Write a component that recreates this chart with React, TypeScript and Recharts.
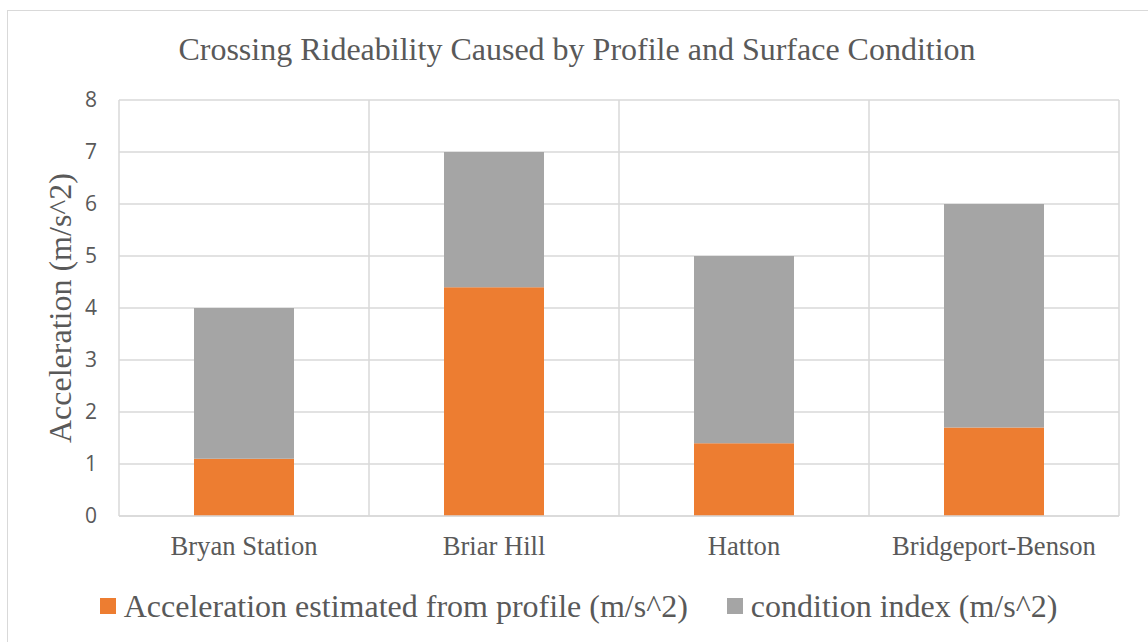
import React from 'react'
import {
  BarChart,
  Bar,
  XAxis,
  YAxis,
  CartesianGrid,
  Legend,
} from 'recharts'

const crossings = ['Bryan Station', 'Briar Hill', 'Hatton', 'Bridgeport-Benson']
const profileAccel = [1.1, 4.4, 1.4, 1.7]
const conditionIndex = [2.9, 2.6, 3.6, 4.3]
const yTicks = [0, 1, 2, 3, 4, 5, 6, 7, 8]

const seriesNames = {
  profile: 'Acceleration estimated from profile (m/s^2)',
  condition: 'condition index (m/s^2)',
}

const ORANGE = '#ED7D31'
const GRAY = '#A5A5A5'
const GRID = '#D9D9D9'
const TEXT = '#595959'
const SERIF = '"Liberation Serif", "Times New Roman", serif'

const data = crossings.map((name, i) => ({
  name,
  profile: profileAccel[i],
  condition: conditionIndex[i],
}))

const XTick = (props: any) => {
  const { x, y, payload } = props
  return (
    <text
      x={x}
      y={y}
      dy={39}
      textAnchor="middle"
      fill={TEXT}
      fontSize={26.6}
      fontFamily={SERIF}
    >
      {payload.value}
    </text>
  )
}

const YLabel = (props: any) => {
  const { viewBox } = props
  const cy = viewBox.y + viewBox.height / 2
  const x = 71
  return (
    <text
      x={x}
      y={cy}
      transform={`rotate(-90, ${x}, ${cy})`}
      textAnchor="middle"
      fill={TEXT}
      fontSize={32}
      fontFamily={SERIF}
    >
      Acceleration (m/s^2)
    </text>
  )
}

const LegendContent = () => {
  const items = [
    { key: 'profile', color: ORANGE },
    { key: 'condition', color: GRAY },
  ]
  return (
    <div
      style={{
        height: 40,
        display: 'flex',
        alignItems: 'center',
        justifyContent: 'center',
        gap: 39,
        paddingLeft: 38,
        fontFamily: SERIF,
        fontSize: 32,
        color: TEXT,
      }}
    >
      {items.map((it) => (
        <div key={it.key} style={{ display: 'flex', alignItems: 'center', gap: 8 }}>
          <div style={{ width: 16, height: 16, background: it.color }} />
          <span style={{ lineHeight: '40px' }}>
            {seriesNames[it.key as 'profile' | 'condition']}
          </span>
        </div>
      ))}
    </div>
  )
}

export default function App() {
  return (
    <div
      style={{
        position: 'absolute',
        left: 0,
        top: 0,
        width: 1148,
        height: 642,
        background: '#fff',
        overflow: 'hidden',
      }}
    >
      {/* chart frame */}
      <div
        style={{
          position: 'absolute',
          left: 7,
          top: 10,
          width: 1160,
          height: 660,
          border: `1.5px solid ${GRID}`,
        }}
      />
      <div
        style={{
          position: 'absolute',
          left: 0,
          top: 31,
          width: 1154,
          textAlign: 'center',
          fontFamily: SERIF,
          fontSize: 32,
          lineHeight: '36px',
          color: TEXT,
        }}
      >
        Crossing Rideability Caused by Profile and Surface Condition
      </div>
      <BarChart
        width={1148}
        height={642}
        data={data}
        margin={{ top: 100, right: 29, left: 0, bottom: 16 }}
        style={{ position: 'absolute', left: 0, top: 0 }}
      >
        <CartesianGrid
          stroke={GRID}
          strokeWidth={1.5}
          verticalCoordinatesGenerator={({ offset }: any) =>
            [0, 1, 2, 3, 4].map((i) => offset.left + (i * offset.width) / crossings.length)
          }
        />
        <XAxis
          dataKey="name"
          height={70}
          tickLine={false}
          tickSize={0}
          tickMargin={0}
          axisLine={{ stroke: GRID, strokeWidth: 1.5 }}
          tick={<XTick />}
          interval={0}
        />
        <YAxis
          width={119}
          domain={[0, 8]}
          ticks={yTicks}
          axisLine={false}
          tickLine={false}
          tickSize={0}
          tickMargin={22}
          tick={{ fill: TEXT, fontSize: 21, fontFamily: '"Open Sans", sans-serif' }}
          label={<YLabel />}
        />
        <Legend verticalAlign="bottom" content={<LegendContent />} />
        <Bar
          dataKey="profile"
          stackId="a"
          fill={ORANGE}
          barSize={100}
          isAnimationActive={false}
        />
        <Bar
          dataKey="condition"
          stackId="a"
          fill={GRAY}
          barSize={100}
          isAnimationActive={false}
        />
      </BarChart>
    </div>
  )
}
